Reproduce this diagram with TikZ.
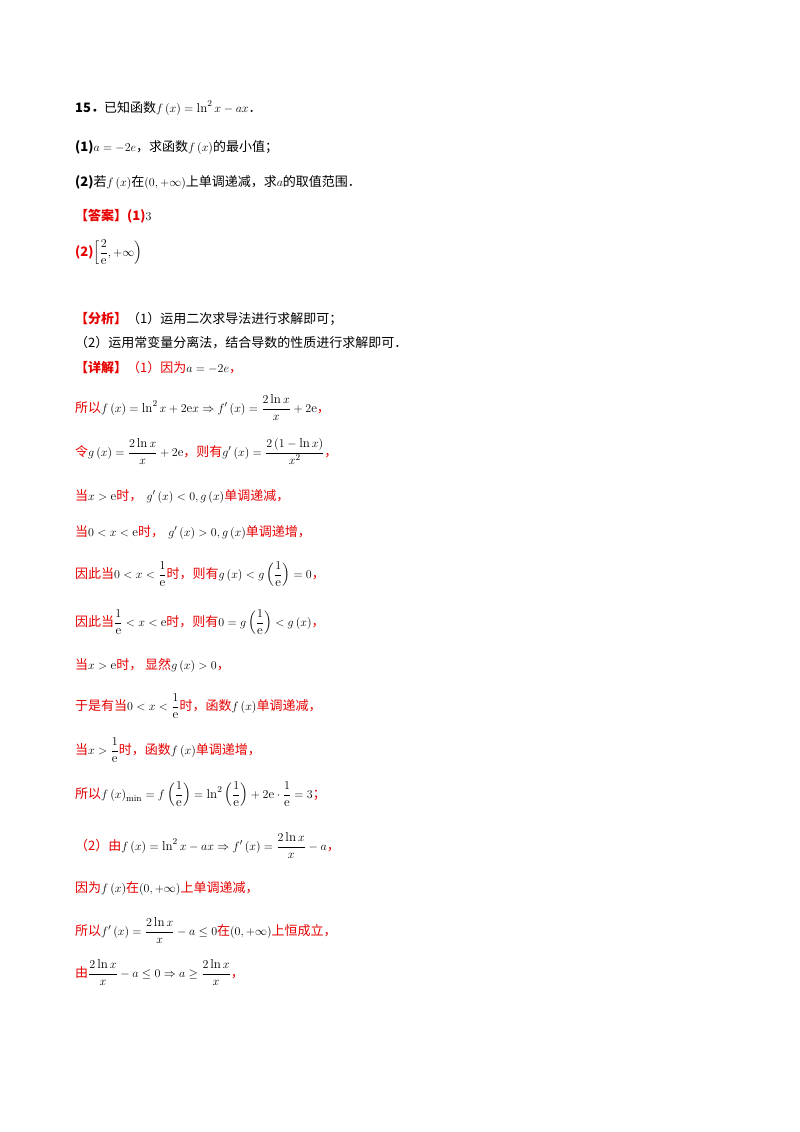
\documentclass[tikz,border=0pt]{standalone}
\usepackage{amsmath,amssymb}
\usepackage{fontspec}
\newfontfamily\cjk{Noto Sans CJK SC}
\definecolor{rd}{RGB}{230,0,0}
\newcommand{\R}[1]{\textcolor{rd}{\cjk #1}}
\newcommand{\K}[1]{{\cjk #1}}
\begin{document}
\begin{tikzpicture}[x=1pt,y=-1pt,every node/.style={anchor=base west,inner sep=0pt,font=\fontsize{13}{16}\selectfont}]
\useasboundingbox (0,0) rectangle (800,1132);
\node (l1) at (75,112) {\K{\textbf{15．}已知函数}$f\left(x\right)=\ln^2x-ax$\K{．}};
\node (l2) at (75,151) {\K{\textbf{(1)}}$a=-2e$\K{，求函数}$f\left(x\right)$\K{的最小值；}};
\node (l3) at (75,186) {\K{\textbf{(2)}若}$f\left(x\right)$\K{在}$\left(0,+\infty\right)$\K{上单调递减，求}$a$\K{的取值范围．}};
\node (l4) at (75,220) {\R{\textbf{【答案】(1)}}$3$};
\node (l5) at (75,256) {\R{\textbf{(2)}}$\left[\dfrac{2}{\mathrm{e}},+\infty\right)$};
\node (l6) at (75,323) {\R{\textbf{【分析】}}\K{（1）运用二次求导法进行求解即可；}};
\node (l7) at (75,347) {\K{（2）运用常变量分离法，结合导数的性质进行求解即可．}};
\node (l8) at (75,372) {\R{\textbf{【详解】}（1）因为}$a=-2e$\R{，}};
\node (l9) at (75,412) {\R{所以}$f\left(x\right)=\ln^2x+2\mathrm{e}x\Rightarrow f'\left(x\right)=\dfrac{2\ln x}{x}+2\mathrm{e}$\R{，}};
\node (l10) at (75,456) {\R{令}$g\left(x\right)=\dfrac{2\ln x}{x}+2\mathrm{e}$\R{，则有}$g'\left(x\right)=\dfrac{2\left(1-\ln x\right)}{x^2}$\R{，}};
\node (l11) at (75,500) {\R{当}$x>\mathrm{e}$\R{时，}\ $g'\left(x\right)<0,g\left(x\right)$\R{单调递减，}};
\node (l12) at (75,536) {\R{当}$0<x<\mathrm{e}$\R{时，}\ $g'\left(x\right)>0,g\left(x\right)$\R{单调递增，}};
\node (l13) at (75,578) {\R{因此当}$0<x<\dfrac{1}{\mathrm{e}}$\R{时，则有}$g\left(x\right)<g\left(\dfrac{1}{\mathrm{e}}\right)=0$\R{，}};
\node (l14) at (75,626) {\R{因此当}$\dfrac{1}{\mathrm{e}}<x<\mathrm{e}$\R{时，则有}$0=g\left(\dfrac{1}{\mathrm{e}}\right)<g\left(x\right)$\R{，}};
\node (l15) at (75,669) {\R{当}$x>\mathrm{e}$\R{时，\ 显然}$g\left(x\right)>0$\R{，}};
\node (l16) at (75,710) {\R{于是有当}$0<x<\dfrac{1}{\mathrm{e}}$\R{时，函数}$f\left(x\right)$\R{单调递减，}};
\node (l17) at (75,754) {\R{当}$x>\dfrac{1}{\mathrm{e}}$\R{时，函数}$f\left(x\right)$\R{单调递增，}};
\node (l18) at (75,798) {\R{所以}$f\left(x\right)_{\min}=f\left(\dfrac{1}{\mathrm{e}}\right)=\ln^2\left(\dfrac{1}{\mathrm{e}}\right)+2\mathrm{e}\cdot\dfrac{1}{\mathrm{e}}=3$\R{；}};
\node (l19) at (75,850) {\R{（2）由}$f\left(x\right)=\ln^2x-ax\Rightarrow f'\left(x\right)=\dfrac{2\ln x}{x}-a$\R{，}};
\node (l20) at (75,892) {\R{因为}$f\left(x\right)$\R{在}$\left(0,+\infty\right)$\R{上单调递减，}};
\node (l21) at (75,935) {\R{所以}$f'\left(x\right)=\dfrac{2\ln x}{x}-a\leq0$\R{在}$\left(0,+\infty\right)$\R{上恒成立，}};
\node (l22) at (75,977) {\R{由}$\dfrac{2\ln x}{x}-a\leq0\Rightarrow a\geq\dfrac{2\ln x}{x}$\R{，}};
\end{tikzpicture}
\end{document}
